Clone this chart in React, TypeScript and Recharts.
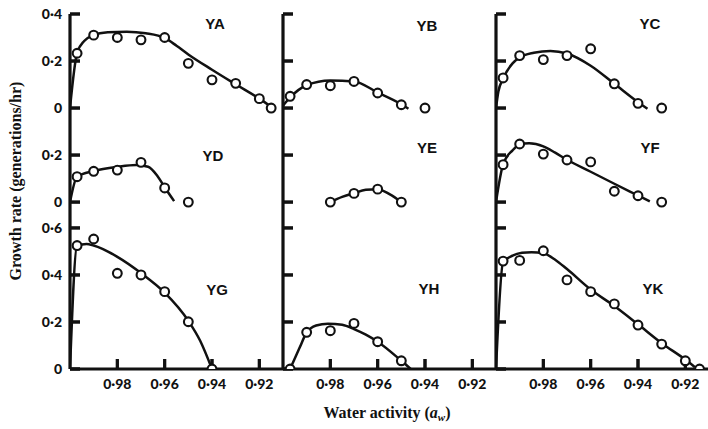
import { ComposedChart, Line, Scatter, XAxis, YAxis, ReferenceLine } from 'recharts';

type Pt = [number, number];

// water activity ticks, growth-rate ticks per panel row
const AW_TICKS = [0.98, 0.96, 0.94, 0.92];
const RATE_TICKS_TOP = [0, 0.2, 0.4];
const RATE_TICKS_MID = [0, 0.2];
const RATE_TICKS_BOTTOM = [0, 0.2, 0.4, 0.6];

const YA_POINTS: Pt[] = [[0.997, 0.233], [0.99, 0.31], [0.98, 0.3], [0.97, 0.29], [0.96, 0.3], [0.95, 0.19], [0.94, 0.12], [0.93, 0.105], [0.92, 0.04], [0.915, 0.0]];
const YA_FIT: Pt[] = [[1.0, 0], [0.997, 0.235], [0.994, 0.285], [0.99, 0.31], [0.984, 0.322], [0.976, 0.325], [0.968, 0.318], [0.96, 0.298], [0.955, 0.265], [0.95, 0.228], [0.94, 0.163], [0.93, 0.101], [0.92, 0.04], [0.915, 0.005]];

const YB_POINTS: Pt[] = [[0.997, 0.05], [0.99, 0.1], [0.98, 0.095], [0.97, 0.113], [0.96, 0.064], [0.95, 0.014], [0.94, 0.0]];
const YB_FIT: Pt[] = [[1.0, 0.01], [0.997, 0.045], [0.99, 0.097], [0.98, 0.117], [0.97, 0.113], [0.96, 0.066], [0.95, 0.016], [0.947, -0.003]];

const YC_POINTS: Pt[] = [[0.997, 0.128], [0.99, 0.223], [0.98, 0.206], [0.97, 0.223], [0.96, 0.252], [0.95, 0.103], [0.94, 0.02], [0.93, 0.0]];
const YC_FIT: Pt[] = [[1.0, 0], [0.999, 0.07], [0.997, 0.125], [0.993, 0.19], [0.99, 0.215], [0.984, 0.235], [0.977, 0.243], [0.97, 0.232], [0.96, 0.18], [0.95, 0.103], [0.94, 0.025], [0.936, -0.003]];

const YD_POINTS: Pt[] = [[0.997, 0.108], [0.99, 0.131], [0.98, 0.136], [0.97, 0.169], [0.96, 0.06], [0.95, 0.0]];
const YD_FIT: Pt[] = [[1.0, 0], [0.997, 0.108], [0.99, 0.132], [0.98, 0.15], [0.972, 0.158], [0.967, 0.15], [0.963, 0.11], [0.96, 0.063], [0.956, 0.004]];

const YE_POINTS: Pt[] = [[0.98, 0.0], [0.97, 0.037], [0.96, 0.055], [0.95, 0.0]];
const YE_FIT: Pt[] = [[0.98, 0], [0.975, 0.022], [0.97, 0.038], [0.965, 0.052], [0.96, 0.055], [0.955, 0.034], [0.95, 0]];

const YF_POINTS: Pt[] = [[0.997, 0.159], [0.99, 0.247], [0.98, 0.204], [0.97, 0.179], [0.96, 0.171], [0.95, 0.046], [0.94, 0.027], [0.93, 0.0]];
const YF_FIT: Pt[] = [[1.0, 0], [0.997, 0.16], [0.993, 0.22], [0.99, 0.245], [0.986, 0.25], [0.98, 0.237], [0.975, 0.21], [0.97, 0.18], [0.96, 0.129], [0.95, 0.078], [0.94, 0.028], [0.935, 0.003]];

const YG_POINTS: Pt[] = [[0.997, 0.525], [0.99, 0.553], [0.98, 0.407], [0.97, 0.4], [0.96, 0.329], [0.95, 0.201], [0.94, 0.0]];
const YG_FIT: Pt[] = [[1.0, 0], [0.997, 0.525], [0.993, 0.532], [0.99, 0.525], [0.98, 0.477], [0.97, 0.408], [0.96, 0.325], [0.95, 0.205], [0.945, 0.12], [0.94, 0]];

const YH_POINTS: Pt[] = [[0.997, 0.0], [0.99, 0.156], [0.98, 0.163], [0.97, 0.194], [0.96, 0.116], [0.95, 0.035]];
const YH_FIT: Pt[] = [[0.997, 0], [0.993, 0.09], [0.99, 0.155], [0.986, 0.185], [0.981, 0.193], [0.975, 0.188], [0.97, 0.17], [0.965, 0.146], [0.96, 0.116], [0.95, 0.035], [0.946, 0]];

const YK_POINTS: Pt[] = [[0.997, 0.459], [0.99, 0.462], [0.98, 0.503], [0.97, 0.379], [0.96, 0.329], [0.95, 0.277], [0.94, 0.187], [0.93, 0.106], [0.92, 0.035], [0.914, 0.0]];
const YK_FIT: Pt[] = [[1.0, 0], [0.997, 0.455], [0.993, 0.482], [0.989, 0.494], [0.985, 0.497], [0.98, 0.492], [0.975, 0.465], [0.97, 0.425], [0.96, 0.338], [0.95, 0.268], [0.94, 0.19], [0.93, 0.11], [0.92, 0.04], [0.916, 0.008]];

// each column is one chart; rows are stacked by shifting the rate
const ROW_OFFSET = [1.11, 0.71, 0];
const ROW_TICKS = [RATE_TICKS_TOP, RATE_TICKS_MID, RATE_TICKS_BOTTOM];
const Y_MAX = ROW_OFFSET[0] + 0.4;
const AW_MIN = 0.91;
const AW_MAX = 1.0;
const COL_LEFT = [70, 283, 496];
const PLOT_W = 213;
const PLOT_H = 355;
const TICK_PX = 10;
const INK = '#111';

// inward tick length expressed in data units of each axis
const TICK_DX = ((AW_MAX - AW_MIN) * TICK_PX) / PLOT_W;
const TICK_DY = (Y_MAX * TICK_PX) / PLOT_H;

const PANELS = [
  { label: 'YA', col: 0, row: 0, points: YA_POINTS, fit: YA_FIT, lx: 215, ly: 23 },
  { label: 'YB', col: 1, row: 0, points: YB_POINTS, fit: YB_FIT, lx: 427, ly: 25 },
  { label: 'YC', col: 2, row: 0, points: YC_POINTS, fit: YC_FIT, lx: 650, ly: 23 },
  { label: 'YD', col: 0, row: 1, points: YD_POINTS, fit: YD_FIT, lx: 213, ly: 155 },
  { label: 'YE', col: 1, row: 1, points: YE_POINTS, fit: YE_FIT, lx: 427, ly: 147 },
  { label: 'YF', col: 2, row: 1, points: YF_POINTS, fit: YF_FIT, lx: 650, ly: 147 },
  { label: 'YG', col: 0, row: 2, points: YG_POINTS, fit: YG_FIT, lx: 217, ly: 289 },
  { label: 'YH', col: 1, row: 2, points: YH_POINTS, fit: YH_FIT, lx: 429, ly: 288 },
  { label: 'YK', col: 2, row: 2, points: YK_POINTS, fit: YK_FIT, lx: 653, ly: 288 },
];

const fmtRate = (v: number) => (v === 0 ? '0' : v.toFixed(1).replace('.', '·'));
const fmtAw = (v: number) => v.toFixed(2).replace('.', '·');

const Y_TICK_LIST = ROW_TICKS.flatMap((ticks, r) =>
  ticks.map(t => ({ value: t + ROW_OFFSET[r], label: fmtRate(t) })),
);
const Y_TICK_VALUES = Y_TICK_LIST.map(t => t.value);

function labelFor(v: number) {
  const hit = Y_TICK_LIST.find(t => Math.abs(t.value - v) < 1e-6);
  return hit ? hit.label : '';
}

const toRows = (pts: Pt[], row: number) => pts.map(([x, y]) => ({ x, y: y + ROW_OFFSET[row] }));

const tickFont = { fontFamily: 'Lato, "Open Sans", sans-serif', fontWeight: 900, fontSize: 14, fill: INK };

function XTick(props: any) {
  const { x, y, payload } = props;
  return (
    <text x={x} y={y + 5} textAnchor="middle" {...tickFont}>
      {fmtAw(payload.value)}
    </text>
  );
}

function YTick(props: any) {
  const { x, y, payload, showLabel } = props;
  if (!showLabel) return <g />;
  return (
    <text x={x} y={y + 5} textAnchor="end" {...tickFont}>
      {labelFor(payload.value)}
    </text>
  );
}

const Ring = (props: any) => (
  <circle cx={props.cx} cy={props.cy} r={4.4} fill="#fff" stroke={INK} strokeWidth={2.1} />
);

function Column({ col }: { col: number }) {
  const ml = col === 0 ? 70 : 12;
  const mr = 12;
  const panels = PANELS.filter(p => p.col === col);
  return (
    <div style={{ position: 'absolute', left: COL_LEFT[col] - ml, top: 0 }}>
      <ComposedChart
        width={ml + PLOT_W + mr}
        height={429}
        margin={{ top: 14, right: mr, bottom: 30, left: ml - 1 }}
      >
        <XAxis
          dataKey="x"
          type="number"
          domain={[AW_MIN, AW_MAX]}
          reversed
          allowDataOverflow
          ticks={AW_TICKS}
          interval={0}
          height={30}
          tickSize={-10}
          tickMargin={25}
          tickLine={{ stroke: INK, strokeWidth: 3 }}
          axisLine={{ stroke: INK, strokeWidth: 3.2 }}
          tick={XTick}
        />
        <YAxis
          dataKey="y"
          type="number"
          domain={[0, Y_MAX]}
          allowDataOverflow
          ticks={Y_TICK_VALUES}
          interval={0}
          width={1}
          tickSize={-10}
          tickMargin={18}
          tickLine={{ stroke: INK, strokeWidth: 3 }}
          axisLine={{ stroke: INK, strokeWidth: 3.2 }}
          tick={(p: any) => <YTick {...p} showLabel={col === 0} />}
        />
        {Y_TICK_VALUES.map(v => (
          <ReferenceLine
            key={'yt' + v}
            segment={[{ x: AW_MAX, y: v }, { x: AW_MAX - TICK_DX, y: v }]}
            stroke={INK}
            strokeWidth={3}
            ifOverflow="visible"
          />
        ))}
        {AW_TICKS.map(t => (
          <ReferenceLine
            key={'xt' + t}
            segment={[{ x: t, y: 0 }, { x: t, y: TICK_DY }]}
            stroke={INK}
            strokeWidth={3}
            ifOverflow="visible"
          />
        ))}
        {panels.map(p => (
          <Line
            key={p.label + '-fit'}
            data={toRows(p.fit, p.row)}
            dataKey="y"
            type="monotone"
            stroke={INK}
            strokeWidth={2.5}
            dot={false}
            activeDot={false}
            isAnimationActive={false}
          />
        ))}
        {panels.map(p => (
          <Scatter
            key={p.label + '-obs'}
            data={toRows(p.points, p.row)}
            dataKey="y"
            shape={Ring}
            isAnimationActive={false}
          />
        ))}
      </ComposedChart>
    </div>
  );
}

export default function App() {
  return (
    <div
      style={{
        position: 'absolute',
        left: 0,
        top: 0,
        width: 708,
        height: 429,
        background: '#fff',
        overflow: 'hidden',
      }}
    >
      {[0, 1, 2].map(c => (
        <Column key={c} col={c} />
      ))}
      <svg
        width={708}
        height={429}
        style={{ position: 'absolute', left: 0, top: 0, pointerEvents: 'none' }}
      >
        {PANELS.map(p => (
          <text
            key={p.label}
            x={p.lx}
            y={p.ly + 5.5}
            textAnchor="middle"
            fontFamily='"Liberation Sans", Arial, sans-serif'
            fontWeight={700}
            fontSize={15}
            fill={INK}
          >
            {p.label}
          </text>
        ))}
        <text
          transform="translate(21,181) rotate(-90)"
          textAnchor="middle"
          fontFamily='"Liberation Serif", serif'
          fontWeight={700}
          fontSize={16}
          fill={INK}
        >
          Growth rate (generations/hr)
        </text>
        <text
          x={387}
          y={418}
          textAnchor="middle"
          fontFamily='"Liberation Serif", serif'
          fontWeight={700}
          fontSize={16}
          fill={INK}
        >
          Water activity (<tspan fontStyle="italic">a</tspan>
          <tspan fontStyle="italic" fontSize={11} dy={3}>w</tspan>
          <tspan dy={-3}>)</tspan>
        </text>
      </svg>
    </div>
  );
}
